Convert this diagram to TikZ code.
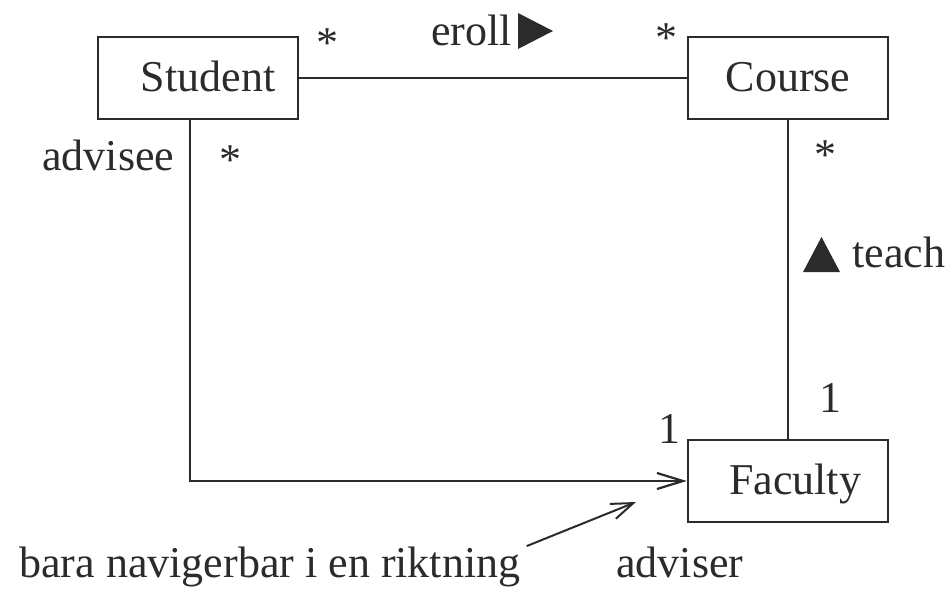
\documentclass[tikz,border=0pt]{standalone}
\usepackage{fontspec}
\setmainfont{Liberation Serif}
\usetikzlibrary{arrows.meta}
\definecolor{ink}{HTML}{2B2B2B}
\begin{document}
\begin{tikzpicture}[x=0.5pt,y=-0.5pt,
  every node/.style={text=ink, font=\fontsize{22}{26}\selectfont},
  classbox/.style={draw=ink, line width=1.3pt, minimum width=100pt,
    minimum height=41pt, inner sep=0pt, text height=15.5pt, text depth=2pt},
  lbl/.style={inner sep=0pt},
  assoc/.style={draw=ink, line width=1.2pt},
  navtip/.style={-{Straight Barb[length=13pt,width=8pt,line width=1.1pt]}},
]
\useasboundingbox (0,0) rectangle (948,589);

% classes
\node[classbox] (student) at (198,78) {\hspace*{10pt}Student};
\node[classbox] (course)  at (788,78) {Course};
\node[classbox] (faculty) at (788,481) {\hspace*{7pt}Faculty};

% associations
\draw[assoc] (student.east) -- (course.west);
\draw[assoc] (course.south) -- (faculty.north);
\draw[assoc, navtip] ([xshift=-4pt]student.south) |- (faculty.west);

% enroll association
\node[lbl, anchor=base] (m1) at (327.5,57) {*};
\node[lbl, anchor=base west] (enr) at (431,45) {eroll};
\fill[ink] (518,13) -- (518,49) -- (553,31) -- cycle;
\node[lbl, anchor=base] (m2) at (666.5,52) {*};

% advisee / adviser association
\node[lbl, anchor=base west] (advisee) at (42,170) {advisee};
\node[lbl, anchor=base] (m3) at (230,174) {*};
\node[lbl, anchor=base] (m4) at (669,443) {1};
\node[lbl, anchor=base west] (adviser) at (616,577) {adviser};

% teach association
\node[lbl, anchor=base] (m5) at (825.5,169) {*};
\fill[ink] (803,272) -- (840,272) -- (821.5,237) -- cycle;
\node[lbl, anchor=base west] (teach) at (852,267) {teach};
\node[lbl, anchor=base] (m6) at (830,412) {1};

% note on navigability
\node[lbl, anchor=base west] (note) at (19,577) {bara navigerbar i en riktning};
\coordinate (notetip) at (636,502);
\draw[ink, line width=1pt, -{Straight Barb[length=11pt,width=8pt,line width=1pt]}]
  ([xshift=3pt]note.north east) -- (notetip);
\end{tikzpicture}
\end{document}
